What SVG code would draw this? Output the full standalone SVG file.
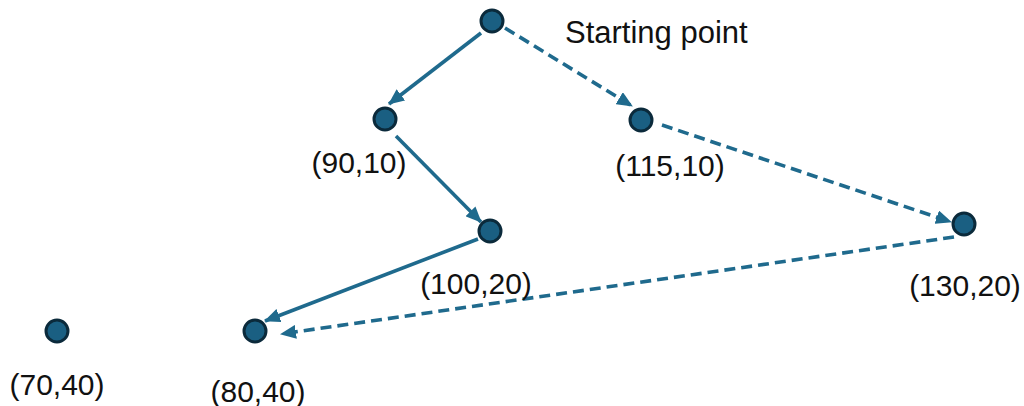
<svg xmlns="http://www.w3.org/2000/svg" width="1024" height="406" viewBox="0 0 1024 406">
  <style>
    .node { fill: #1a5f82; stroke: #0b2a3b; stroke-width: 3; }
    .edge { stroke: #1f6a8d; stroke-width: 3.6; fill: none; }
    .dashed { stroke-dasharray: 11 6; }
    .label { font-family: "Liberation Sans", Arial, sans-serif; font-size: 30px; fill: #111; }
  </style>
  <defs>
    <marker id="arrow" markerUnits="userSpaceOnUse" markerWidth="16" markerHeight="14" refX="15" refY="7" orient="auto">
      <path d="M0,0 L16,7 L0,14 Z" fill="#1f6a8d"/>
    </marker>
  </defs>

  <g id="connectors">
    <line class="edge" x1="481" y1="33" x2="389" y2="104" marker-end="url(#arrow)"/>
    <line class="edge dashed" x1="505" y1="28" x2="632" y2="106" marker-end="url(#arrow)"/>
    <line class="edge" x1="396" y1="136" x2="481" y2="222" marker-end="url(#arrow)"/>
    <line class="edge dashed" x1="662" y1="125" x2="951" y2="222" marker-end="url(#arrow)"/>
    <line class="edge" x1="478" y1="239" x2="265" y2="321" marker-end="url(#arrow)"/>
    <line class="edge dashed" x1="954" y1="237" x2="281" y2="334" marker-end="url(#arrow)"/>
  </g>

  <g id="start">
    <circle class="node" cx="492" cy="21" r="11"/>
    <text class="label" x="565" y="43" style="font-size:31px">Starting point</text>
  </g>
  <g id="n90-10">
    <circle class="node" cx="385" cy="119" r="11"/>
    <text class="label" x="359" y="173" text-anchor="middle">(90,10)</text>
  </g>
  <g id="n115-10">
    <circle class="node" cx="641" cy="120" r="11"/>
    <text class="label" x="670" y="176" text-anchor="middle">(115,10)</text>
  </g>
  <g id="n100-20">
    <circle class="node" cx="490" cy="231" r="11"/>
    <text class="label" x="476" y="294" text-anchor="middle">(100,20)</text>
  </g>
  <g id="n130-20">
    <circle class="node" cx="964" cy="224" r="11"/>
    <text class="label" x="965" y="296" text-anchor="middle">(130,20)</text>
  </g>
  <g id="n80-40">
    <circle class="node" cx="255" cy="331" r="11"/>
    <text class="label" x="258" y="402" text-anchor="middle">(80,40)</text>
  </g>
  <g id="n70-40">
    <circle class="node" cx="57" cy="331" r="11"/>
    <text class="label" x="57" y="395" text-anchor="middle">(70,40)</text>
  </g>
</svg>
